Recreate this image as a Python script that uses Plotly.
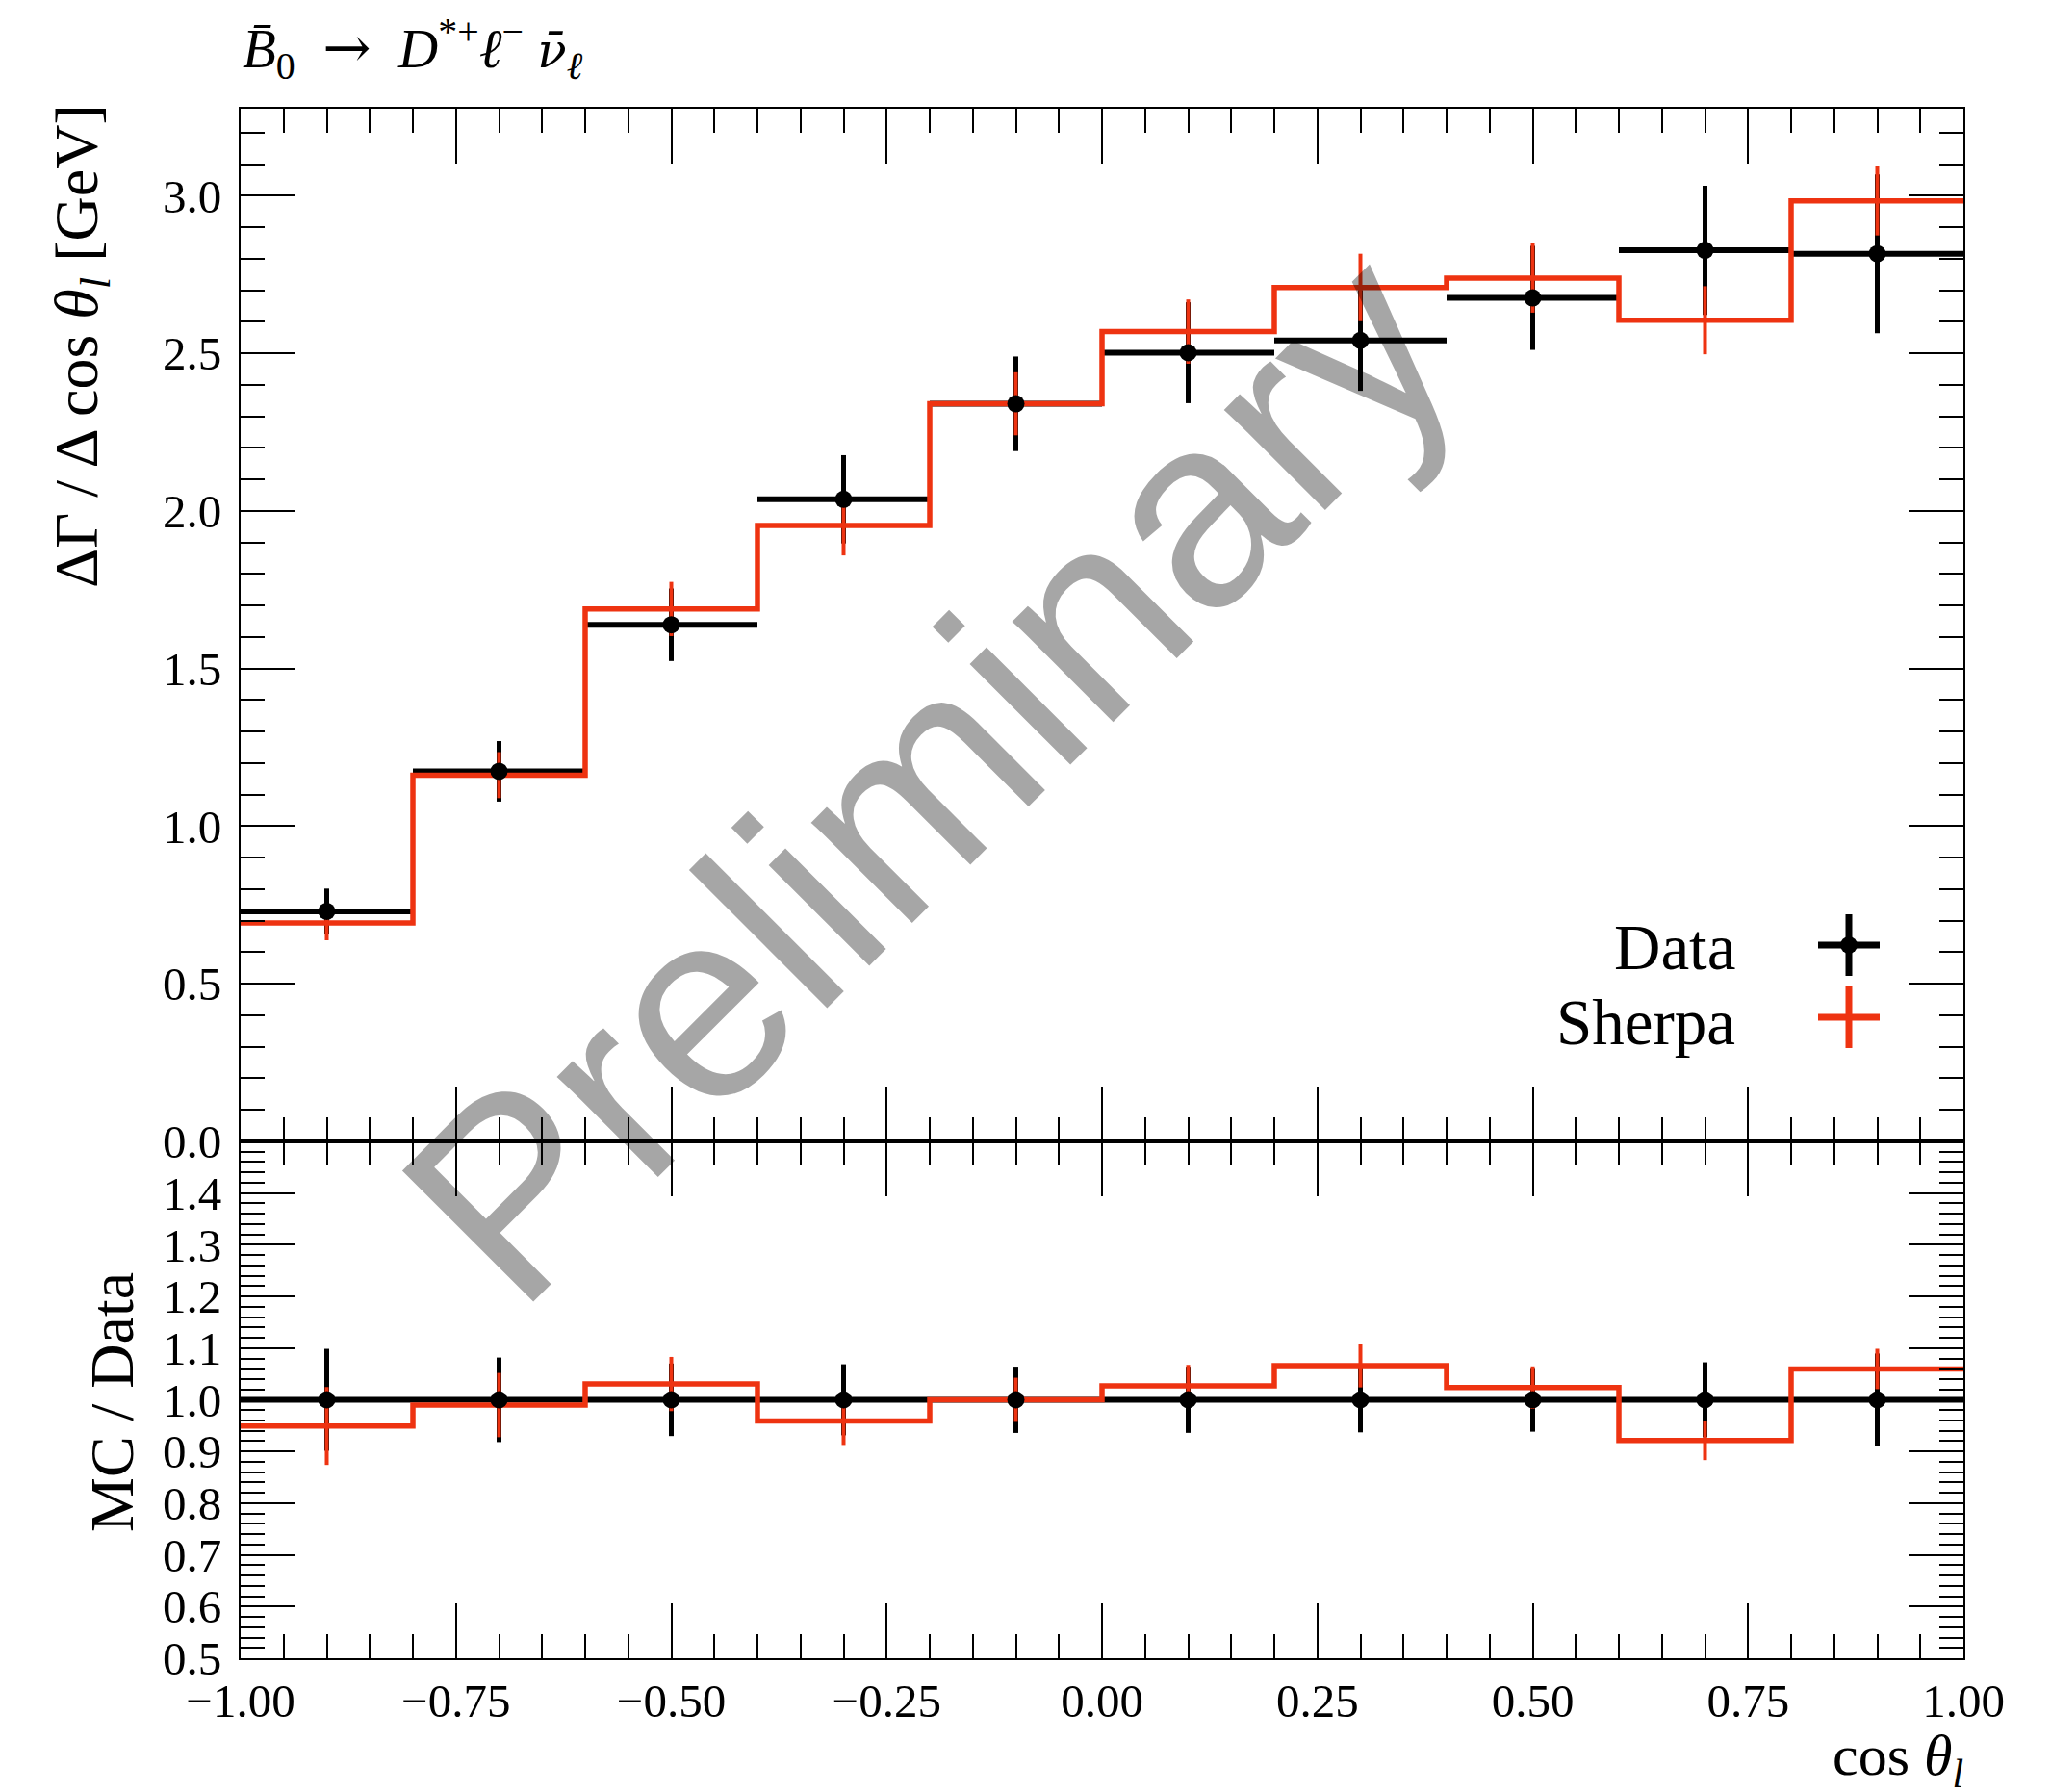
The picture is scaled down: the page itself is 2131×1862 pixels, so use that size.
import numpy as np
import plotly.graph_objects as go

# ---- binned measurement: dGamma/dcos(theta_l) ----
bin_edges = [-1.0, -0.8, -0.6, -0.4, -0.2, 0.0, 0.2, 0.4, 0.6, 0.8, 1.0]
data_vals = [0.730, 1.174, 1.639, 2.037, 2.340, 2.502, 2.541, 2.676, 2.827, 2.816]
data_errs = [0.072, 0.096, 0.115, 0.140, 0.150, 0.160, 0.160, 0.165, 0.205, 0.252]
sherpa_vals = [0.693, 1.162, 1.689, 1.954, 2.340, 2.569, 2.709, 2.739, 2.605, 2.984]
sherpa_errs = [0.055, 0.073, 0.086, 0.095, 0.100, 0.102, 0.107, 0.110, 0.108, 0.110]

upper_y_ticks = [0.0, 0.5, 1.0, 1.5, 2.0, 2.5, 3.0]
ratio_y_ticks = [0.5, 0.6, 0.7, 0.8, 0.9, 1.0, 1.1, 1.2, 1.3, 1.4]
x_ticks = [-1.0, -0.75, -0.5, -0.25, 0.0, 0.25, 0.5, 0.75, 1.0]

RED = "#EE3311"
SERIF = "Liberation Serif"

edges = np.array(bin_edges)
centers = 0.5 * (edges[:-1] + edges[1:])
halfw = 0.5 * (edges[1:] - edges[:-1])
d = np.array(data_vals)
de = np.array(data_errs)
s = np.array(sherpa_vals)
se = np.array(sherpa_errs)

ratio_d = d / d
ratio_de = de / d
ratio_s = s / d
ratio_se = se / d

# ---- page geometry (pixels) ----
W, H = 2131, 1862
L, R, T, B = 250, 2040, 113, 1723
SPLIT = 1186  # border between main and ratio panel


def px(x):
    return (x - L) / (R - L)


def py(y):
    return (B - y) / (B - T)


split_frac = py(SPLIT)

fig = go.Figure()


def add_panel(xa, ya, yv, yerr, mv, merr):
    # data: bin-width bars + vertical uncertainty
    fig.add_trace(go.Scatter(
        x=centers, y=yv, mode="markers", xaxis=xa, yaxis=ya,
        marker=dict(size=1, color="rgba(0,0,0,0)"),
        error_x=dict(type="data", array=halfw, color="black", thickness=6, width=0),
        error_y=dict(type="data", array=yerr, color="black", thickness=5, width=0),
        showlegend=False, hoverinfo="skip"))
    # MC histogram
    fig.add_trace(go.Scatter(
        x=edges, y=np.append(mv, mv[-1]), mode="lines", line_shape="hv",
        line=dict(color=RED, width=5.5), xaxis=xa, yaxis=ya,
        showlegend=False, hoverinfo="skip"))
    # MC uncertainty
    fig.add_trace(go.Scatter(
        x=centers, y=mv, mode="markers", xaxis=xa, yaxis=ya,
        marker=dict(size=1, color="rgba(0,0,0,0)"),
        error_y=dict(type="data", array=merr, color=RED, thickness=4, width=0),
        showlegend=False, hoverinfo="skip"))
    # data markers on top
    fig.add_trace(go.Scatter(
        x=centers, y=yv, mode="markers", xaxis=xa, yaxis=ya,
        marker=dict(size=18, color="black"),
        showlegend=False, hoverinfo="skip"))


add_panel("x", "y", d, de, s, se)
add_panel("x2", "y2", ratio_d, ratio_de, ratio_s, ratio_se)

tickfont = dict(family=SERIF, size=49, color="black")
common_x = dict(
    range=[-1.0, 1.0], tickmode="array", tickvals=x_ticks, tickformat=".2f",
    ticks="inside", ticklen=57, tickwidth=2, tickcolor="black",
    minor=dict(dtick=0.05, tick0=0.0, ticks="inside", ticklen=25, tickwidth=2,
               tickcolor="black", showgrid=False),
    showline=True, linecolor="black", linewidth=2, mirror="allticks",
    showgrid=False, zeroline=False, tickfont=tickfont,
)
common_y = dict(
    ticks="inside", ticklen=57, tickwidth=2, tickcolor="black",
    showline=True, linecolor="black", linewidth=2, mirror="allticks",
    showgrid=False, zeroline=False, tickfont=tickfont, tickformat=".1f",
    ticklabelstandoff=8,
)

fig.update_layout(
    width=W, height=H,
    margin=dict(l=L, r=W - R, t=T, b=H - B, pad=0),
    paper_bgcolor="white", plot_bgcolor="white",
    showlegend=False,
    xaxis=dict(common_x, domain=[0, 1], anchor="y", showticklabels=False),
    yaxis=dict(common_y, domain=[split_frac, 1], anchor="x", range=[0, 3.276],
               tickmode="array", tickvals=upper_y_ticks,
               minor=dict(dtick=0.1, tick0=0.0, ticks="inside", ticklen=25,
                          tickwidth=2, tickcolor="black", showgrid=False)),
    xaxis2=dict(common_x, domain=[0, 1], anchor="y2", matches="x",
                ticklabelstandoff=0),
    yaxis2=dict(common_y, domain=[0, split_frac], anchor="x2", range=[0.5, 1.5],
                tickmode="array", tickvals=ratio_y_ticks,
                minor=dict(dtick=0.02, tick0=0.0, ticks="inside", ticklen=25,
                           tickwidth=2, tickcolor="black", showgrid=False)),
)

NB = "\u00a0"
process_label = (
    "<i>B\u0304</i><sub>0</sub>" + NB * 2
    + "<span style='font-family:DejaVu Serif;font-size:60px'>\u2192</span>" + NB * 2
    + "<i>D</i><sup>*+</sup><i>\u2113</i><sup>\u2212</sup>" + NB
    + "<span style='font-family:DejaVu Serif;font-size:50px'><i>\u03bd\u0304</i></span>"
    + "<sub><i>\u2113</i></sub>"
)

annots = []
# process label
annots.append(dict(
    text=process_label,
    x=px(250), y=py(50), xref="paper", yref="paper", xanchor="left", yanchor="middle",
    showarrow=False, font=dict(family=SERIF, size=57, color="black")))
# axis titles
annots.append(dict(
    text="\u0394\u0393 / \u0394 cos <i>\u03b8</i><sub><i>l</i></sub> [GeV]",
    x=px(84), y=py(360), xref="paper", yref="paper", xanchor="center", yanchor="middle",
    textangle=-90, showarrow=False, font=dict(family=SERIF, size=64, color="black")))
annots.append(dict(
    text="MC / Data",
    x=px(116), y=py(1457), xref="paper", yref="paper", xanchor="center", yanchor="middle",
    textangle=-90, showarrow=False, font=dict(family=SERIF, size=64, color="black")))
annots.append(dict(
    text="cos <i>\u03b8</i><sub><i>l</i></sub>",
    x=px(2042), y=py(1828), xref="paper", yref="paper", xanchor="right", yanchor="middle",
    showarrow=False, font=dict(family=SERIF, size=60, color="black")))
# legend labels
annots.append(dict(
    text="Data", x=px(1805), y=py(984), xref="paper", yref="paper",
    xanchor="right", yanchor="middle", showarrow=False,
    font=dict(family=SERIF, size=67, color="black")))
annots.append(dict(
    text="Sherpa", x=px(1805), y=py(1062), xref="paper", yref="paper",
    xanchor="right", yanchor="middle", showarrow=False,
    font=dict(family=SERIF, size=67, color="black")))
# watermark
annots.append(dict(
    text="Preliminary", x=px(965), y=py(806), xref="paper", yref="paper",
    xanchor="center", yanchor="middle", textangle=-45, showarrow=False,
    font=dict(family="Liberation Sans", size=280, color="rgba(0,0,0,0.35)")))
fig.update_layout(annotations=annots)

# legend glyphs
shapes = []
cx, cy_d, cy_s = 1921, 982, 1057
arm = 32
for cy, col in ((cy_d, "black"), (cy_s, RED)):
    shapes.append(dict(type="line", xref="paper", yref="paper",
                       x0=px(cx - arm), x1=px(cx + arm), y0=py(cy), y1=py(cy),
                       line=dict(color=col, width=7)))
    shapes.append(dict(type="line", xref="paper", yref="paper",
                       x0=px(cx), x1=px(cx), y0=py(cy - arm), y1=py(cy + arm),
                       line=dict(color=col, width=7)))
rdot = 9
shapes.append(dict(type="circle", xref="paper", yref="paper",
                   x0=px(cx - rdot), x1=px(cx + rdot), y0=py(cy_d - rdot), y1=py(cy_d + rdot),
                   fillcolor="black", line=dict(color="black", width=0)))
fig.update_layout(shapes=shapes)

fig.write_html("out.html")
